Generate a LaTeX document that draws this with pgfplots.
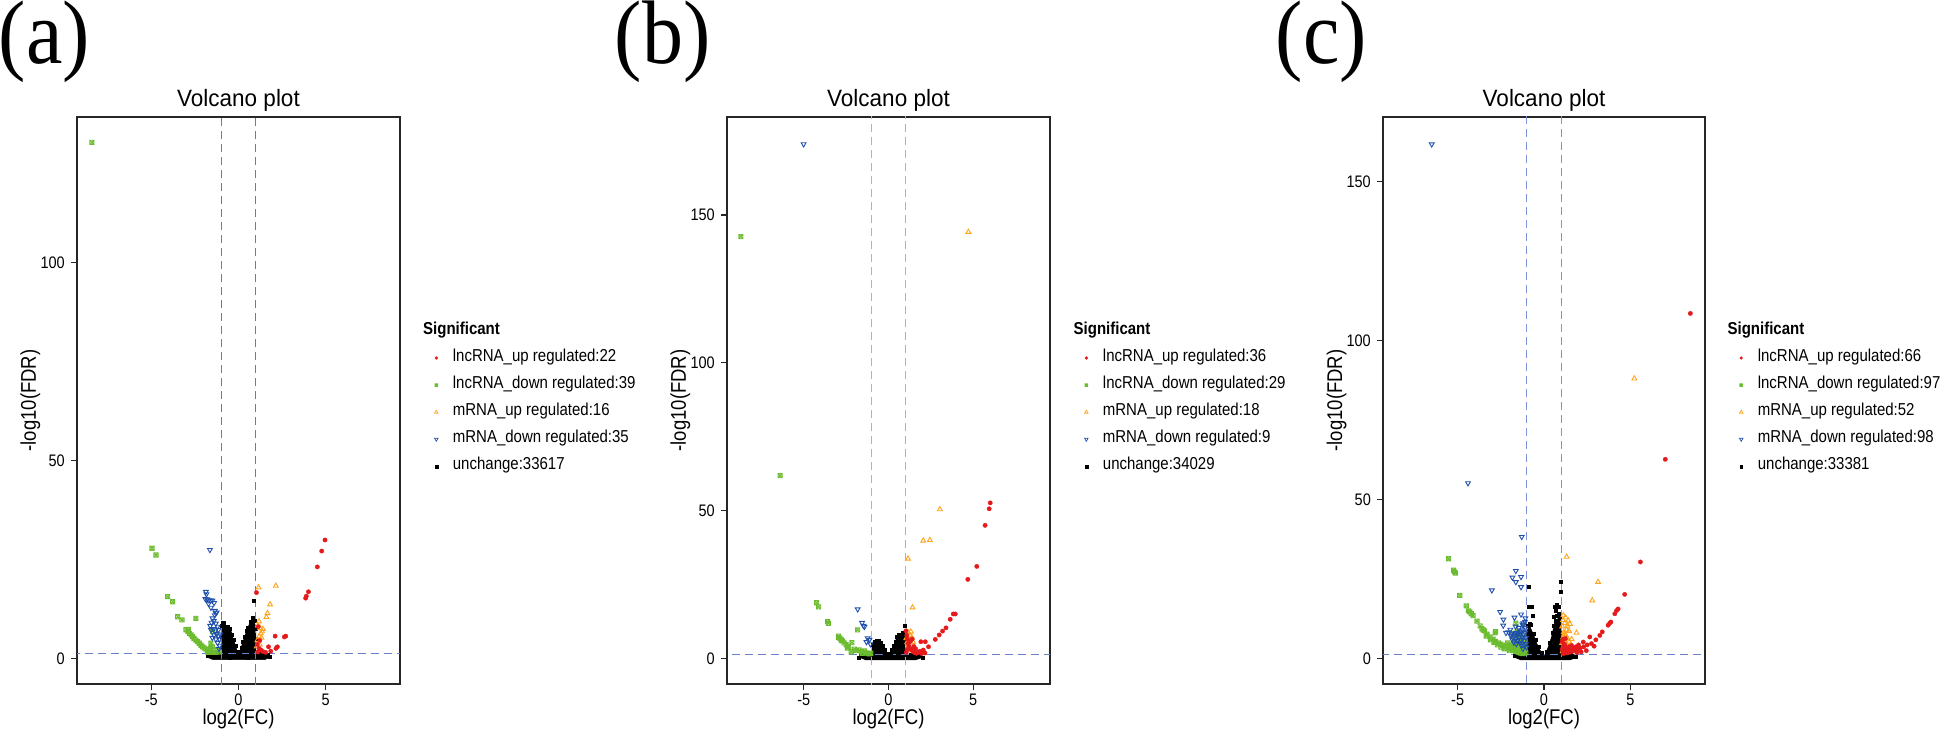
\documentclass[border=0pt]{standalone}
\usepackage{fontspec}
\setmainfont{Liberation Sans}
\newfontfamily\serifx{Liberation Serif}
\usepackage{graphicx}
\usepackage{pgfplots}
\pgfplotsset{compat=1.18}

\definecolor{cRed}{HTML}{E41A1C}
\definecolor{cGreen}{HTML}{6BBB2E}
\definecolor{cOrange}{HTML}{FFA31A}
\definecolor{cBlue}{HTML}{1F4FAD}
\definecolor{vA}{HTML}{5A7AD6}
\definecolor{vB}{HTML}{A7B0E2}
\definecolor{vC}{HTML}{7E93DC}
\definecolor{hA}{HTML}{6B80CC}

\pgfdeclareplotmark{boxtimes}{%
  \pgfpathrectangle{\pgfpoint{-\pgfplotmarksize}{-\pgfplotmarksize}}{\pgfpoint{2\pgfplotmarksize}{2\pgfplotmarksize}}%
  \pgfpathmoveto{\pgfpoint{-\pgfplotmarksize}{-\pgfplotmarksize}}\pgfpathlineto{\pgfpoint{\pgfplotmarksize}{\pgfplotmarksize}}%
  \pgfpathmoveto{\pgfpoint{-\pgfplotmarksize}{\pgfplotmarksize}}\pgfpathlineto{\pgfpoint{\pgfplotmarksize}{-\pgfplotmarksize}}%
  \pgfusepathqstroke}

\newcommand\sy[1]{\scalebox{1}[1.15]{#1}}
\newcommand\syt[1]{\scalebox{1}[1.05]{#1}}

\pgfplotsset{
  upS/.style={only marks, mark=*, mark size=2.2pt, color=cRed, mark options={fill=cRed, draw=cRed, line width=0.3pt}},
  dnL/.style={only marks, mark=boxtimes, mark size=2.1pt, color=cGreen, mark options={draw=cGreen, line width=0.9pt}},
  upM/.style={only marks, mark=triangle, mark size=2.8pt, color=cOrange, mark options={draw=cOrange, line width=0.9pt}},
  dnM/.style={only marks, mark=triangle, mark size=2.8pt, color=cBlue, mark options={draw=cBlue, rotate=180, line width=0.9pt}},
  unc/.style={only marks, mark=square*, mark size=1.5pt, color=black, mark options={fill=black, draw=black, line width=0.2pt}},
  lgd/.style={legend image code/.code={\path[draw=none, fill=none] (-4pt,-4pt) rectangle (4pt,4pt); \draw[##1] plot coordinates {(0pt,0pt)};}},
  volc/.style={
    scale only axis, width=323pt, height=567pt, anchor=south west,
    axis line style={line width=1.3pt, black!85},
    tick align=outside, tick pos=left, major tick length=6pt,
    every tick/.style={line width=1.2pt, black!85},
    xtick={-5,0,5}, xticklabels={\sy{-5},\sy{0},\sy{5}},
    ticklabel style={font=\fontsize{14.5}{15}\selectfont, inner sep=0pt},
    xticklabel style={anchor=north, yshift=-4pt},
    yticklabel style={anchor=east, xshift=-6pt},
    title={\syt{Volcano plot}},
    title style={at={(axis description cs:0.5,1.0088)}, anchor=base, font=\fontsize{22.5}{24}\selectfont, inner sep=0pt},
    xlabel={\sy{log2(FC)}},
    xlabel style={at={(axis description cs:0.5,-0.0723)}, anchor=base, font=\fontsize{18.5}{20}\selectfont, inner sep=0pt},
    ylabel={\sy{-log10(FDR)}},
    ylabel style={at={(axis description cs:-0.127,0.5)}, anchor=base, rotate=0, font=\fontsize{18.5}{20}\selectfont, inner sep=0pt},
    legend cell align=left,
    legend style={draw=none, fill=none, anchor=north west, inner sep=0pt, outer sep=0pt,
      at={(axis description cs:1.100,0.5882)},
      row sep=12.1pt, column sep=12.6pt, font=\fontsize{15}{16}\selectfont,
      nodes={inner sep=0pt, text height=11pt, text depth=4pt}},
  },
  dash/.style={forget plot, line width=1.1pt, dash pattern=on 8pt off 5pt},
}

\begin{document}
\begin{tikzpicture}
\path[use as bounding box] (0pt,0pt) rectangle (1943pt,732pt);

% ===================== (a) =====================
\begin{axis}[volc, at={(77pt,48pt)}, xmin=-9.26, xmax=9.26, ymin=-6.5, ymax=136.8,
  ytick={0,50,100}, yticklabels={\sy{0},\sy{50},\sy{100}}]
\addplot[fill=black, draw=black, line width=0.6pt, forget plot] coordinates {
(-1.85,0.3) (-1.75,1.1) (-1.6,1.35) (-1.0,1.35) (-1.0,7.0) (-0.95,8.7) (-0.8,8.3) (-0.63,7.8) (-0.45,7.3) (-0.35,5.5) (-0.15,2.9) (-0.04,0.8) (0.04,0.8) (0.1,2.0) (0.23,3.8) (0.42,6.3) (0.6,8.4) (0.72,9.5) (0.82,9.8) (0.95,8.5) (1.0,6.5) (1.0,1.35) (1.6,1.35) (1.75,1.0) (1.8,0.3) (1.5,-0.35) (-1.5,-0.35)};
\addplot[unc, forget plot] coordinates {
(0.86,14.5) (0.78,10.2) (0.9,9.6) (0.68,9.2) (0.55,7.8) (0.45,6.9) (0.35,5.4) (0.25,4.2) (0.15,2.6) (0.08,1.5) (-0.08,1.6) (-0.18,3.2) (-0.28,4.6) (-0.38,6.1) (-0.5,7.6) (-0.62,8.1) (-0.72,8.0) (-0.85,8.9) (-0.93,9.1) (-0.98,8.2) (-0.97,5.5) (0.97,5.0) (0.99,7.5) (-1.2,1.2) (-1.4,1.0) (-1.65,0.9) (-1.8,0.6) (1.2,1.1) (1.45,1.0) (1.65,0.9) (1.8,0.5) (-0.5,0.1) (0.5,0.1)};
\addplot[dnL, forget plot] coordinates {
(-8.41,130.4) (-4.96,27.8) (-4.73,26.1) (-4.06,15.6) (-3.78,14.3) (-3.49,10.5) (-3.24,9.7) (-2.44,10.1) (-3.02,7.2) (-2.9,6.8) (-2.82,6.3) (-2.72,5.9) (-2.63,5.5) (-2.55,5.0) (-2.44,4.6) (-2.35,4.2) (-2.25,3.8) (-2.15,3.3) (-2.06,2.9) (-1.97,2.6) (-1.87,2.3) (-1.78,2.0) (-1.58,3.8) (-1.68,1.7) (-1.49,2.9) (-1.55,1.6) (-1.42,1.5) (-1.3,1.5) (-1.62,2.4) (-1.2,2.2) (-1.1,1.6) (-1.75,1.5) (-1.49,6.8) (-2.87,7.3)};
\addplot[dnM, forget plot] coordinates {
(-1.64,27.4) (-1.87,16.8) (-1.84,16.2) (-1.90,15.0) (-1.80,14.9) (-1.70,14.7) (-1.60,14.6) (-1.50,14.6) (-1.40,14.0) (-1.58,12.8) (-1.72,13.8) (-1.30,11.4) (-1.25,11.6) (-1.36,10.9) (-1.49,10.1) (-1.42,9.4) (-1.30,8.8) (-1.55,9.0) (-1.20,8.0) (-1.58,7.2) (-1.45,7.4) (-1.35,6.8) (-1.25,6.2) (-1.15,5.6) (-1.10,4.8) (-1.40,5.8) (-1.30,4.8) (-1.20,3.9) (-1.08,3.2) (-1.50,5.2) (-1.15,7.2) (-1.05,6.0) (-1.62,8.2) (-1.35,12.0) (-1.12,2.4)};
\addplot[upM, forget plot] coordinates {
(1.15,17.9) (2.14,18.3) (1.81,13.6) (1.66,11.4) (1.60,10.4) (1.18,9.3) (1.24,7.6) (1.28,6.3) (1.18,5.5) (1.09,4.6) (1.35,6.8) (1.32,5.2) (1.22,3.5) (1.12,8.2) (1.40,7.4) (1.05,3.0)};
\addplot[upS, forget plot] coordinates {
(4.96,29.9) (4.77,27.1) (4.52,23.1) (4.01,16.8) (3.89,15.7) (3.85,15.2) (2.71,5.6) (2.63,5.4) (2.10,5.6) (2.23,2.9) (2.15,2.5) (1.72,2.9) (1.85,1.8) (1.03,16.6) (1.13,8.0) (1.18,2.5) (1.28,2.1) (1.08,3.5) (1.40,1.7) (1.55,1.5) (1.12,1.6) (1.22,4.5)};
\addplot[dash, color=vA] coordinates {(-1,-20) (-1,300)};
\addplot[dash, color=vA] coordinates {(1,-20) (1,300)};
\addplot[dash, color=hA] coordinates {(-20,1.3) (20,1.3)};
\addlegendimage{upS, mark size=1.5pt, lgd}\addlegendentry{\sy{lncRNA\_up regulated:22}}
\addlegendimage{dnL, mark size=1.4pt, mark options={line width=0.7pt}, lgd}\addlegendentry{\sy{lncRNA\_down regulated:39}}
\addlegendimage{upM, mark size=2pt, mark options={line width=0.7pt}, lgd}\addlegendentry{\sy{mRNA\_up regulated:16}}
\addlegendimage{dnM, mark size=2pt, mark options={rotate=180, line width=0.7pt}, lgd}\addlegendentry{\sy{mRNA\_down regulated:35}}
\addlegendimage{unc, mark size=1.3pt, lgd}\addlegendentry{\sy{unchange:33617}}
\end{axis}

% ===================== (b) =====================
\begin{axis}[volc, at={(727pt,48pt)}, xmin=-9.53, xmax=9.53, ymin=-8.7, ymax=183.2,
  ytick={0,50,100,150}, yticklabels={\sy{0},\sy{50},\sy{100},\sy{150}}]
\addplot[fill=black, draw=black, line width=0.6pt, forget plot] coordinates {
(-1.75,0.3) (-1.6,1.2) (-1.3,1.35) (-1.0,1.35) (-1.0,4.5) (-0.9,5.6) (-0.75,5.9) (-0.6,5.8) (-0.48,4.8) (-0.38,3.8) (-0.22,2.4) (-0.1,1.0) (0.1,1.0) (0.2,2.6) (0.32,4.3) (0.45,6.5) (0.55,7.4) (0.7,7.7) (0.85,8.2) (0.97,7.8) (1.0,6.0) (1.0,1.35) (1.7,1.35) (1.95,0.9) (2.0,0.3) (1.6,-0.5) (-1.4,-0.5)};
\addplot[unc, forget plot] coordinates {
(0.93,10.9) (0.85,8.6) (0.75,8.0) (0.62,7.9) (0.5,7.2) (0.4,5.8) (0.3,4.2) (0.2,2.8) (0.12,1.6) (-0.12,1.6) (-0.22,3.0) (-0.35,4.2) (-0.48,5.2) (-0.6,6.1) (-0.72,6.0) (-0.85,5.6) (-0.95,4.8) (0.97,6.5) (0.9,7.2) (-1.2,1.2) (-1.45,1.0) (-1.65,0.8) (1.3,1.1) (1.6,1.0) (1.85,0.8) (2.0,0.4) (-1.75,0.4)};
\addplot[dnL, forget plot] coordinates {
(-8.71,142.7) (-6.40,61.8) (-4.24,18.8) (-4.12,17.4) (-3.59,12.4) (-3.55,11.8) (-2.94,7.1) (-2.87,6.8) (-2.80,6.4) (-2.71,5.9) (-2.62,5.2) (-2.50,4.6) (-2.35,3.9) (-2.16,5.3) (-1.82,9.6) (-2.02,3.1) (-1.90,2.6) (-1.73,2.8) (-1.60,2.2) (-1.43,2.5) (-1.30,1.8) (-1.20,1.6) (-1.55,1.7) (-2.2,2.2) (-1.12,1.5) (-2.95,7.5) (-2.78,6.0) (-2.42,3.5) (-1.05,1.7)};
\addplot[dnM, forget plot] coordinates {
(-5.01,174.0) (-1.82,16.6) (-1.56,12.0) (-1.48,11.0) (-1.42,10.7) (-1.23,6.8) (-1.13,6.2) (-1.3,5.5) (-1.07,4.8)};
\addplot[upM, forget plot] coordinates {
(4.71,144.3) (3.03,50.4) (2.05,39.8) (2.44,40.0) (1.15,33.7) (1.42,17.2) (1.32,9.0) (1.26,7.9) (1.22,6.2) (1.18,8.6) (1.38,7.0) (1.10,5.4) (1.30,4.6) (1.15,3.8) (1.45,5.5) (1.05,6.8) (1.25,2.6) (1.40,3.2)};
\addplot[upS, forget plot] coordinates {
(6.0,52.6) (5.94,50.6) (5.70,45.0) (5.21,31.1) (4.68,26.7) (3.94,15.0) (3.82,15.0) (3.64,13.2) (3.39,10.3) (3.19,9.2) (2.99,7.9) (2.76,6.4) (2.36,3.9) (2.17,5.6) (1.91,5.6) (2.05,2.8) (1.85,2.4) (1.03,9.3) (1.08,7.8) (1.12,6.5) (1.15,5.0) (1.20,4.2) (1.25,3.4) (1.35,2.8) (1.45,2.2) (1.55,1.9) (1.65,1.7) (1.75,2.0) (1.10,3.0) (1.30,5.8) (1.50,4.0) (1.60,3.2) (1.05,2.0) (1.95,1.6) (2.15,1.8) (1.40,6.5)};
\addplot[dash, color=vB] coordinates {(-1,-20) (-1,300)};
\addplot[dash, color=vB] coordinates {(1,-20) (1,300)};
\addplot[dash, color=hA] coordinates {(-20,1.3) (20,1.3)};
\addlegendimage{upS, mark size=1.5pt, lgd}\addlegendentry{\sy{lncRNA\_up regulated:36}}
\addlegendimage{dnL, mark size=1.4pt, mark options={line width=0.7pt}, lgd}\addlegendentry{\sy{lncRNA\_down regulated:29}}
\addlegendimage{upM, mark size=2pt, mark options={line width=0.7pt}, lgd}\addlegendentry{\sy{mRNA\_up regulated:18}}
\addlegendimage{dnM, mark size=2pt, mark options={rotate=180, line width=0.7pt}, lgd}\addlegendentry{\sy{mRNA\_down regulated:9}}
\addlegendimage{unc, mark size=1.3pt, lgd}\addlegendentry{\sy{unchange:34029}}
\end{axis}

% ===================== (c) =====================
\begin{axis}[volc, at={(1383pt,48pt)}, width=322pt, xmin=-9.32, xmax=9.32, ymin=-8.1, ymax=170.3,
  ytick={0,50,100,150}, yticklabels={\sy{0},\sy{50},\sy{100},\sy{150}}]
\addplot[fill=black, draw=black, line width=0.6pt, forget plot] coordinates {
(-1.75,0.3) (-1.6,1.2) (-1.3,1.35) (-1.0,1.35) (-1.0,8.0) (-0.92,9.5) (-0.82,10.0) (-0.7,8.5) (-0.56,6.7) (-0.42,4.6) (-0.23,2.5) (-0.06,0.9) (0.06,0.9) (0.25,3.6) (0.44,6.7) (0.54,9.3) (0.63,11.4) (0.75,12.2) (0.85,12.6) (0.97,12.0) (1.0,10.0) (1.0,1.35) (1.6,1.35) (1.85,0.9) (1.9,0.3) (1.5,-0.5) (-1.4,-0.5)};
\addplot[unc, forget plot] coordinates {
(-0.90,22.4) (0.98,24.0) (0.98,20.9) (-0.90,16.1) (-0.71,16.4) (-0.65,13.5) (0.60,16.1) (0.67,15.1) (0.83,16.1) (0.54,13.0) (0.83,14.0) (0.75,13.4) (0.9,12.8) (-0.85,11.0) (-0.95,10.2) (-0.78,10.6) (-0.6,7.8) (-0.48,5.8) (-0.33,3.8) (-0.15,1.8) (0.15,2.0) (0.35,5.0) (0.48,8.0) (0.58,10.2) (0.68,12.0) (-1.2,1.2) (-1.5,1.0) (-1.7,0.7) (1.25,1.1) (1.55,1.0) (1.8,0.6) (0.72,17.0)};
\addplot[dnL, forget plot] coordinates {
(-5.52,31.3) (-5.23,27.7) (-5.13,26.8) (-5.18,27.2) (-4.88,19.8) (-4.37,14.9) (-4.30,14.6) (-4.21,14.0) (-3.88,11.7) (-3.60,9.3) (-3.52,8.9) (-3.44,8.6) (-3.30,7.6) (-3.12,6.7) (-2.83,8.0) (-2.95,6.0) (-2.80,5.3) (-2.63,4.8) (-2.50,4.4) (-2.35,4.1) (-2.20,3.8) (-2.06,3.6) (-2.10,4.8) (-1.77,7.8) (-1.63,11.0) (-1.95,3.2) (-1.85,2.8) (-1.75,2.5) (-1.65,2.2) (-1.55,2.0) (-1.45,1.8) (-1.35,1.6) (-1.25,1.5) (-1.15,1.6) (-1.05,1.7) (-1.8,4.5) (-1.7,5.5) (-1.6,6.5) (-1.5,7.5) (-1.4,6.2) (-1.3,5.0) (-1.2,4.0) (-1.1,3.0) (-1.7,3.6) (-1.5,4.6) (-1.4,3.4) (-1.3,2.7) (-1.2,6.5) (-1.1,5.2) (-1.6,3.0) (-1.45,5.6) (-1.35,7.0) (-1.25,3.5) (-1.15,2.5) (-2.3,3.0) (-2.5,3.5) (-2.7,4.2) (-2.9,5.0) (-3.1,5.8) (-3.35,7.0) (-3.7,10.2) (-4.1,13.4) (-4.5,16.5) (-2.0,2.4) (-1.9,4.0) (-1.55,8.5) (-2.80,8.4)};
\addplot[dnM, forget plot] coordinates {
(-6.50,161.7) (-4.40,55.1) (-1.29,38.2) (-1.63,27.5) (-1.83,25.4) (-1.33,25.6) (-1.63,24.0) (-1.33,22.4) (-3.02,21.4) (-2.54,14.6) (-2.35,12.2) (-1.71,12.8) (-1.33,13.8) (-1.87,7.8) (-1.19,10.4) (-1.58,7.2) (-1.38,7.8) (-1.25,9.0) (-1.9,7.0) (-1.8,6.5) (-1.7,7.5) (-1.6,8.0) (-1.5,7.8) (-1.4,8.5) (-1.3,8.2) (-1.2,7.6) (-1.1,8.0) (-1.05,6.5) (-1.15,5.5) (-1.25,6.2) (-1.35,5.8) (-1.45,6.6) (-1.55,5.4) (-1.65,6.0) (-1.75,5.0) (-1.1,9.5) (-1.2,11.0) (-1.25,10.6) (-1.1,11.5) (-1.05,4.5) (-1.15,4.0) (-1.3,4.4) (-2.05,8.2) (-2.2,8.0) (-1.95,9.0) (-1.45,9.6) (-1.65,10.0) (-1.08,12.6) (-1.02,3.5) (-1.22,3.0) (-1.4,4.8) (-1.6,4.5) (-1.85,6.0) (-2.36,10.3)};
\addplot[upM, forget plot] coordinates {
(5.23,88.0) (1.31,31.9) (3.13,24.0) (2.79,18.2) (1.88,8.0) (1.12,13.5) (1.25,12.8) (1.40,11.9) (1.20,11.0) (1.35,10.2) (1.50,10.8) (1.10,12.0) (1.30,9.0) (1.15,8.2) (1.45,8.6) (1.05,10.0) (1.25,7.2) (1.10,6.5) (1.35,6.4) (1.20,5.6) (1.05,4.8) (1.30,4.6) (1.15,3.8) (1.25,2.8) (1.40,3.6) (1.55,4.2) (1.60,6.0) (1.08,2.2) (1.18,7.6) (1.45,5.2)};
\addplot[upS, forget plot] coordinates {
(8.47,108.5) (7.02,62.6) (5.58,30.3) (4.67,20.1) (4.29,15.5) (4.20,15.0) (4.10,14.0) (3.87,11.4) (3.80,11.0) (3.71,10.4) (3.37,8.3) (3.23,7.2) (2.65,6.7) (2.75,4.6) (2.27,5.1) (2.5,4.2) (2.3,3.6) (2.1,3.2) (1.95,2.8) (1.8,2.5) (1.65,2.2) (1.5,1.9) (1.35,1.7) (1.2,1.6) (1.1,1.5) (2.0,4.2) (1.85,3.6) (1.7,3.2) (1.55,2.9) (1.4,2.6) (1.25,2.4) (1.12,2.2) (1.6,4.0) (1.45,3.6) (1.3,3.2) (1.15,3.0) (1.05,2.8) (1.2,4.4) (1.1,6.0) (1.05,5.2) (1.15,4.0) (2.9,3.8) (3.0,5.8) (2.45,2.4) (2.15,2.0) (1.9,1.8) (1.24,6.2)};
\addplot[dash, color=vC] coordinates {(-1,-20) (-1,300)};
\addplot[dash, color=vC] coordinates {(1,-20) (1,300)};
\addplot[dash, color=hA] coordinates {(-20,1.3) (20,1.3)};
\addlegendimage{upS, mark size=1.5pt, lgd}\addlegendentry{\sy{lncRNA\_up regulated:66}}
\addlegendimage{dnL, mark size=1.4pt, mark options={line width=0.7pt}, lgd}\addlegendentry{\sy{lncRNA\_down regulated:97}}
\addlegendimage{upM, mark size=2pt, mark options={line width=0.7pt}, lgd}\addlegendentry{\sy{mRNA\_up regulated:52}}
\addlegendimage{dnM, mark size=2pt, mark options={rotate=180, line width=0.7pt}, lgd}\addlegendentry{\sy{mRNA\_down regulated:98}}
\addlegendimage{unc, mark size=1.3pt, lgd}\addlegendentry{\sy{unchange:33381}}
\end{axis}

% panel letters and legend titles
\node[anchor=base west, inner sep=0pt, font=\serifx\fontsize{82}{82}\selectfont] at (-1.5pt,668pt) {\scalebox{1}[1.1]{(a)}};
\node[anchor=base west, inner sep=0pt, font=\serifx\fontsize{82}{82}\selectfont] at (614.5pt,668pt) {\scalebox{1}[1.1]{(b)}};
\node[anchor=base west, inner sep=0pt, font=\serifx\fontsize{82}{82}\selectfont] at (1275.5pt,668pt) {\scalebox{1}[1.1]{(c)}};
\node[anchor=base west, inner sep=0pt, font=\bfseries\fontsize{15}{16}\selectfont] at (423pt,397pt) {\sy{Significant}};
\node[anchor=base west, inner sep=0pt, font=\bfseries\fontsize{15}{16}\selectfont] at (1073.5pt,397pt) {\sy{Significant}};
\node[anchor=base west, inner sep=0pt, font=\bfseries\fontsize{15}{16}\selectfont] at (1727.4pt,397pt) {\sy{Significant}};
\end{tikzpicture}
\end{document}
